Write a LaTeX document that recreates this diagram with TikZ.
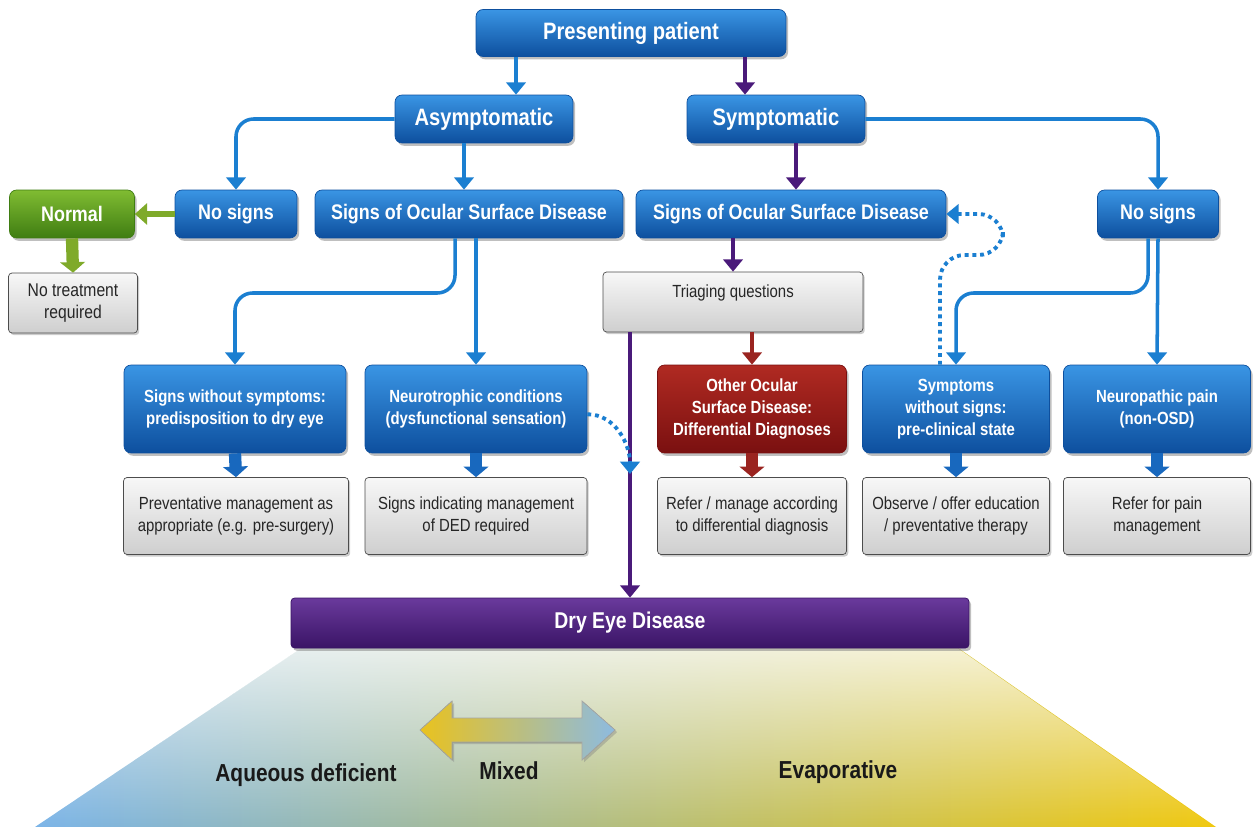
\documentclass[tikz,border=0pt]{standalone}
\usepackage{fontspec}
\setmainfont{Liberation Sans}[FakeStretch=0.85]
\usetikzlibrary{arrows.meta,positioning,shapes,shadows,fadings,backgrounds}

\definecolor{bluetop}{HTML}{3A95E4}
\definecolor{bluebot}{HTML}{0D4F9E}
\definecolor{lineblue}{HTML}{1B7FD1}
\definecolor{fatblue}{HTML}{1868BE}
\definecolor{linepurple}{HTML}{4A1A7A}
\definecolor{redtop}{HTML}{B02A22}
\definecolor{redbot}{HTML}{7A1010}
\definecolor{linered}{HTML}{9A2420}
\definecolor{greentop}{HTML}{80BC32}
\definecolor{greenbot}{HTML}{3F7D12}
\definecolor{linegreen}{HTML}{7FAA2A}
\definecolor{purpletop}{HTML}{6A3A9C}
\definecolor{purplebot}{HTML}{3A1466}
\definecolor{dedblue}{HTML}{7AB4E8}
\definecolor{dedmid}{HTML}{C8D07A}
\definecolor{dedyellow}{HTML}{F0C80E}
\definecolor{arryellow}{HTML}{E9C21E}
\definecolor{arrblue}{HTML}{8DBBE0}

\tikzfading[name=fadetop, top color=transparent!22, middle color=transparent!70, bottom color=transparent!100]

\begin{document}
\begin{tikzpicture}[
  x=0.02cm, y=-0.02cm,
  block/.style={rectangle, rounded corners=4pt, align=center, inner sep=2pt},
  blueblock/.style={block, top color=bluetop, bottom color=bluebot, draw=bluebot,
    text=white, font=\bfseries\fontsize{12}{14}\selectfont,
    drop shadow={opacity=0.5, shadow xshift=1.2pt, shadow yshift=-1.6pt}},
  redblock/.style={blueblock, top color=redtop, bottom color=redbot, draw=redbot},
  greenblock/.style={blueblock, top color=greentop, bottom color=greenbot, draw=greenbot},
  purpleblock/.style={blueblock, rounded corners=2pt, top color=purpletop, bottom color=purplebot, draw=purplebot},
  greyblock/.style={block, rounded corners=2pt, top color=gray!6, bottom color=gray!38, draw=black!70,
    text=black!85, font=\fontsize{10}{12.5}\selectfont,
    drop shadow={opacity=0.4, shadow xshift=1pt, shadow yshift=-1.2pt}},
  small/.style={font=\bfseries\fontsize{10}{12.5}\selectfont},
  bline/.style={draw=lineblue, line width=2pt, rounded corners=10pt, -{Triangle[width=11pt,length=7pt]}},
  pline/.style={bline, draw=linepurple},
  rline/.style={bline, draw=linered},
  gline/.style={bline, draw=linegreen, line width=3pt, -{Triangle[width=12pt,length=7pt]}},
  fatline/.style={draw=fatblue, line width=7pt, -{Triangle[width=14pt,length=6pt]}},
  dline/.style={draw=lineblue, line width=2.2pt, dash pattern=on 2.2pt off 2.2pt,
    rounded corners=14pt, -{Triangle[width=11pt,length=7pt]}}
]
\useasboundingbox (0,0) rectangle (1253,827);

% top levels
\node[blueblock, minimum width=6.2cm, minimum height=0.94cm, font=\bfseries\fontsize{13.5}{15}\selectfont] (pp) at (631,33) {Presenting patient};
\node[blueblock, minimum width=3.56cm, minimum height=0.96cm, font=\bfseries\fontsize{13.5}{15}\selectfont] (asym) at (484,119) {Asymptomatic};
\node[blueblock, minimum width=3.56cm, minimum height=0.96cm, font=\bfseries\fontsize{13.5}{15}\selectfont] (sym) at (776,119) {Symptomatic};

\node[greenblock, minimum width=2.5cm, minimum height=0.96cm] (normal) at (72,214) {Normal};
\node[blueblock, minimum width=2.44cm, minimum height=0.96cm] (nosL) at (236,214) {No signs};
\node[blueblock, minimum width=6.16cm, minimum height=0.96cm] (sosL) at (469,214) {Signs of Ocular Surface Disease};
\node[blueblock, minimum width=6.2cm, minimum height=0.96cm] (sosR) at (791,214) {Signs of Ocular Surface Disease};
\node[blueblock, minimum width=2.42cm, minimum height=0.96cm] (nosR) at (1158,214) {No signs};

\node[greyblock, minimum width=2.58cm, minimum height=1.2cm, font=\fontsize{10.5}{13}\selectfont] (notreat) at (73,303) {No treatment\\required};
\node[greyblock, minimum width=5.2cm, minimum height=1.2cm] (triage) at (733,302) {Triaging questions\\\mbox{}};

% third row
\node[blueblock, small, minimum width=4.44cm, minimum height=1.76cm] (swos) at (235,409) {Signs without symptoms:\\predisposition to dry eye};
\node[blueblock, small, minimum width=4.44cm, minimum height=1.76cm] (neuro) at (476,409) {Neurotrophic conditions\\(dysfunctional sensation)};
\node[redblock, small, minimum width=3.78cm, minimum height=1.76cm] (other) at (752,409) {Other Ocular\\Surface Disease:\\Differential Diagnoses};
\node[blueblock, small, minimum width=3.74cm, minimum height=1.76cm] (sws) at (956,409) {Symptoms\\without signs:\\pre-clinical state};
\node[blueblock, small, minimum width=3.74cm, minimum height=1.76cm] (npain) at (1157,409) {Neuropathic pain\\(non-OSD)};

% fourth row
\node[greyblock, minimum width=4.5cm, minimum height=1.54cm] (prev) at (236,516) {Preventative management as\\appropriate (e.g. pre-surgery)};
\node[greyblock, minimum width=4.44cm, minimum height=1.54cm] (sigm) at (476,516) {Signs indicating management\\of DED required};
\node[greyblock, minimum width=3.78cm, minimum height=1.54cm] (refer) at (752,516) {Refer / manage according\\to differential diagnosis};
\node[greyblock, minimum width=3.74cm, minimum height=1.54cm] (observe) at (956,516) {Observe / offer education\\/ preventative therapy};
\node[greyblock, minimum width=3.74cm, minimum height=1.54cm] (painref) at (1157,516) {Refer for pain\\management};

% dry eye disease
\node[purpleblock, minimum width=13.56cm, minimum height=1.0cm, font=\bfseries\fontsize{13}{15}\selectfont] (dry) at (630,623) {Dry Eye Disease};

\begin{scope}[on background layer]
\shade[left color=dedblue, middle color=dedmid, right color=dedyellow]
  ([xshift=6pt]dry.south west) -- (35,827) -- (1216,827) -- ([xshift=-6pt]dry.south east) -- cycle;
\fill[white, path fading=fadetop]
  ([xshift=6pt]dry.south west) -- (34,828) -- (1217,828) -- ([xshift=-6pt]dry.south east) -- cycle;
\end{scope}

% double arrow
\fill[left color=arryellow, right color=arrblue, draw=black!35, line width=0.4pt,
  drop shadow={opacity=0.4, shadow xshift=1.2pt, shadow yshift=-1.2pt}]
  (420,730) -- (452,701) -- (452,718) -- (582,718) -- (582,701) -- (615,730)
  -- (582,760) -- (582,742) -- (452,742) -- (452,760) -- cycle;

\node[font=\bfseries\fontsize{14}{16}\selectfont, text=black!90] (aqueous) at (306,775) {Aqueous deficient};
\node[font=\bfseries\fontsize{14}{16}\selectfont, text=black!90] (mixed) at (509,771) {Mixed};
\node[font=\bfseries\fontsize{14}{16}\selectfont, text=black!90] (evap) at (838,772) {Evaporative};

% connectors
\draw[bline] (pp.south -| 516,0) -- (asym.north -| 516,0);
\draw[pline] (pp.south -| 745,0) -- (sym.north -| 745,0);
\draw[bline] (asym.west) -| (nosL.north);
\draw[bline] (asym.south -| 464,0) -- (sosL.north -| 464,0);
\draw[pline] (sym.south -| 796,0) -- (sosR.north -| 796,0);
\draw[bline] (sym.east) -| (nosR.north);
\draw[gline] (nosL.west) -- (normal.east);
\draw[fatline, draw=linegreen] (normal.south) -- (notreat.north);

\draw[bline] (sosL.south -| 455,0) |- (300,293) -| (swos.north);
\draw[bline] (sosL.south -| neuro.north) -- (neuro.north);
\draw[pline] (sosR.south -| triage.north) -- (triage.north);
\draw[rline] (triage.south -| other.north) -- (other.north);
\draw[pline] (triage.south -| 630,0) -- (dry.north -| 630,0);
\draw[bline] (nosR.south -| 1148,0) |- (1050,293) -| (sws.north);
\draw[bline] (nosR.south) -- (npain.north);

\coordinate (dotend) at (630,474);
\draw[dline] ([yshift=-3pt]neuro.east) to[out=0, in=90] (dotend);
\draw[dline] (sws.north -| 940,0) |- (1003,255) |- (sosR.east);

\foreach \a/\b in {swos/prev, neuro/sigm, sws/observe, npain/painref}
  \draw[fatline] (\a.south) -- (\b.north);
\draw[fatline, draw=linered] (other.south) -- (refer.north);

\end{tikzpicture}
\end{document}
